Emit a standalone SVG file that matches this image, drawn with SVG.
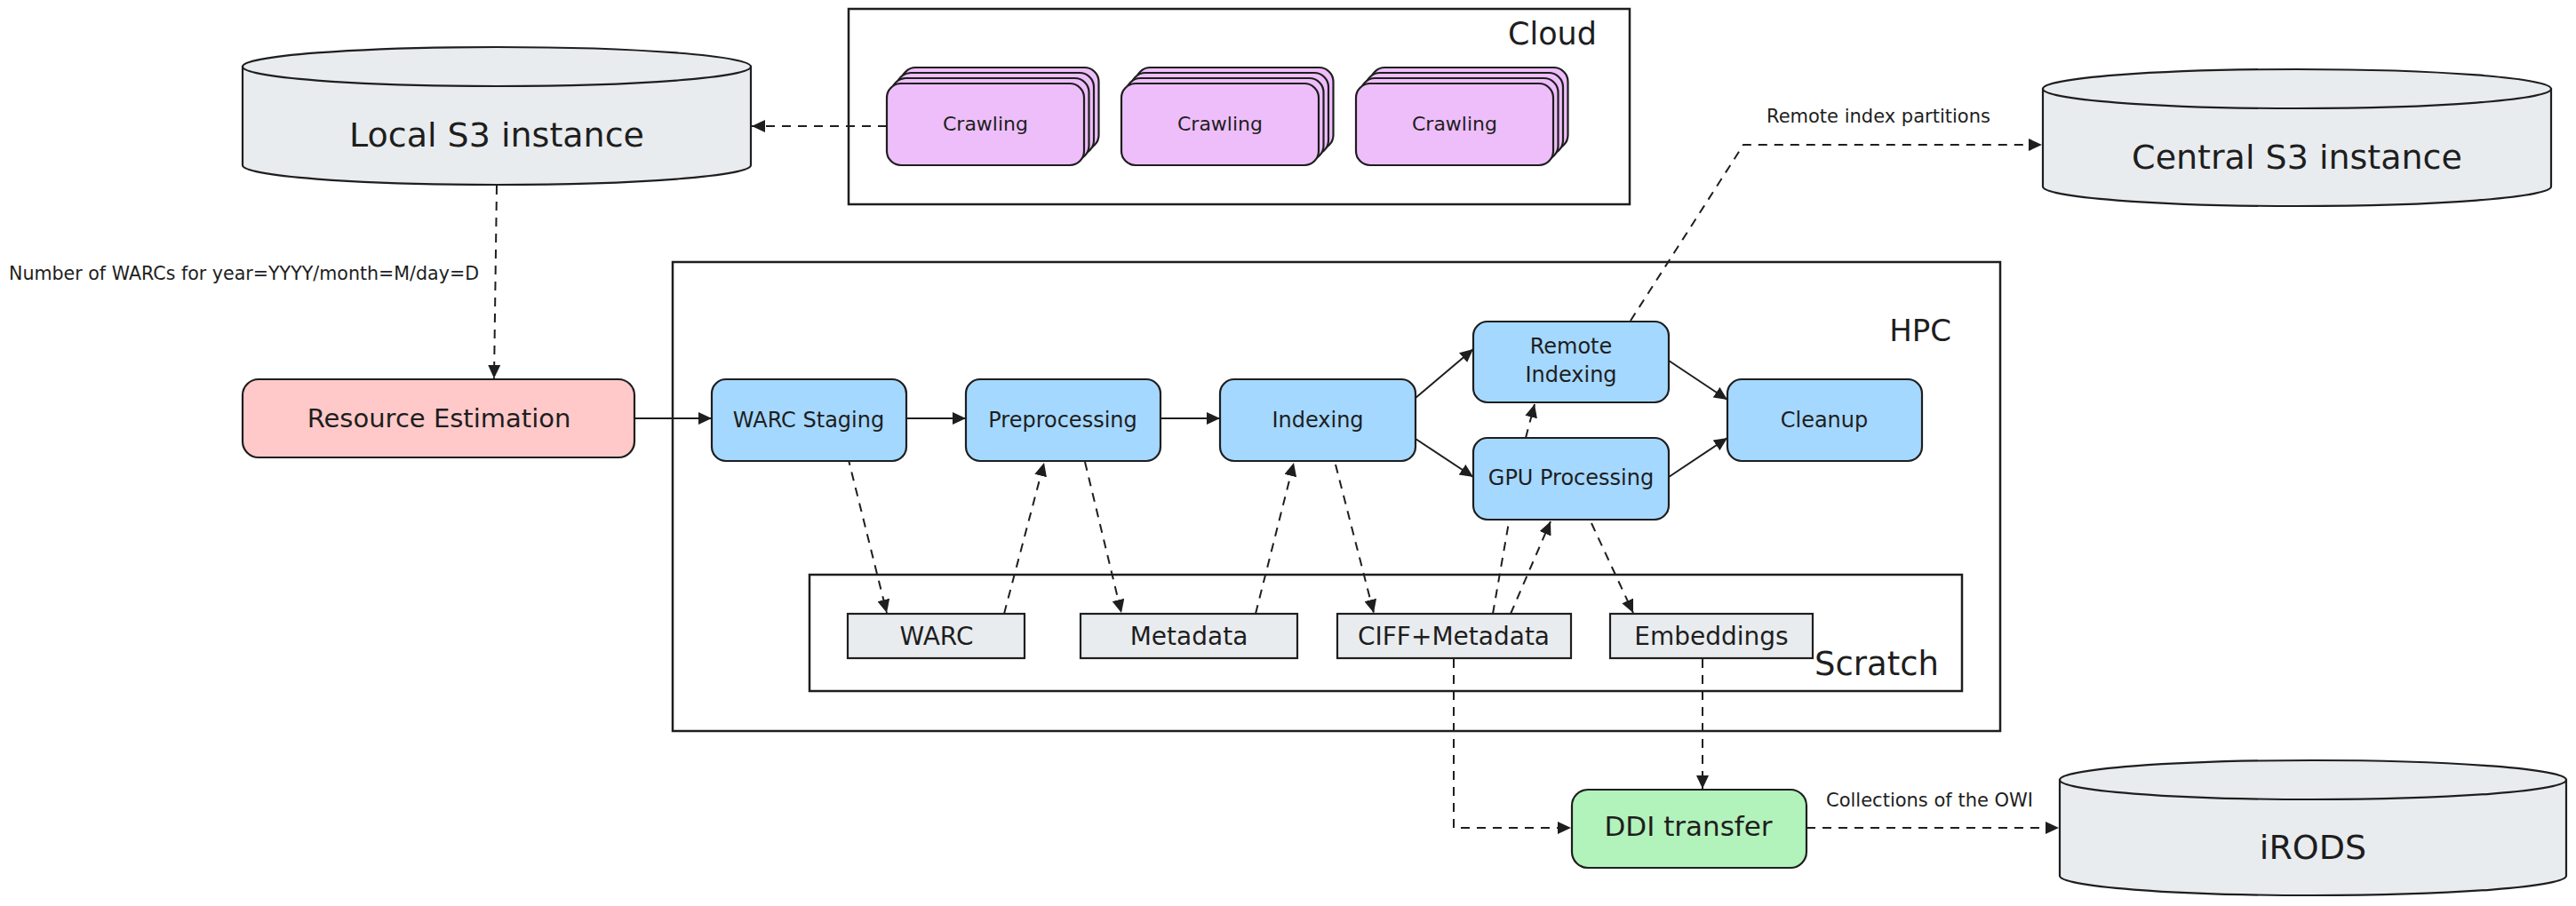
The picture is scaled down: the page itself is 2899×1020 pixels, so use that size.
<svg xmlns="http://www.w3.org/2000/svg" width="2899" height="1020" viewBox="0 0 2899 1020">
  <style>
    text { font-family: "DejaVu Sans", "Liberation Sans", sans-serif; fill: #1e1e1e; }
    .c { text-anchor: middle; }
    .box { stroke: #1e1e1e; stroke-width: 2.2; }
    .blue { fill: #a5d8ff; }
    .pink { fill: #ffc9c9; }
    .purple { fill: #eebefa; }
    .green { fill: #b2f2bb; }
    .gray { fill: #e9ecef; }
    .frame { fill: none; stroke: #1e1e1e; stroke-width: 2.5; }
    .ln { fill: none; stroke: #1e1e1e; stroke-width: 2; }
    .dash { stroke-dasharray: 10 8; }
    .t24 { font-size: 24px; }
    .t28 { font-size: 28px; }
    .t22 { font-size: 22px; }
    .big { font-size: 38px; }
    .lbl { font-size: 21px; }
  </style>
  <defs>
    <marker id="ah" markerWidth="16" markerHeight="14" refX="15" refY="7" orient="auto" markerUnits="userSpaceOnUse">
      <path d="M0,0 L15,7 L0,14 Z" fill="#1e1e1e" stroke="none"/>
    </marker>
    <g id="crawlStack">
      <rect x="16.5" y="-18" width="222" height="92" rx="16" class="box purple"/>
      <rect x="11" y="-12" width="222" height="92" rx="16" class="box purple"/>
      <rect x="5.5" y="-6" width="222" height="92" rx="16" class="box purple"/>
      <rect x="0" y="0" width="222" height="92" rx="16" class="box purple"/>
    </g>
  </defs>
  <rect width="2899" height="1020" fill="#ffffff"/>

  <!-- Containers -->
  <g id="cloud">
    <rect x="955" y="10" width="879" height="220" class="frame"/>
    <text x="1797" y="50" font-size="35" text-anchor="end">Cloud</text>
  </g>
  <g id="hpc">
    <rect x="757" y="295" width="1494" height="528" class="frame"/>
    <text x="2196" y="384" font-size="34" text-anchor="end">HPC</text>
  </g>
  <g id="scratch">
    <rect x="911" y="647" width="1297" height="131" class="frame"/>
    <text x="2042" y="760" font-size="37">Scratch</text>
  </g>

  <!-- Connectors -->
  <g id="connectors">
    <path class="ln" d="M714,471 L801,471" marker-end="url(#ah)"/>
    <path class="ln" d="M1020,471 L1087,471" marker-end="url(#ah)"/>
    <path class="ln" d="M1306,471 L1373,471" marker-end="url(#ah)"/>
    <path class="ln" d="M1593,448 L1658,393" marker-end="url(#ah)"/>
    <path class="ln" d="M1593,494 L1658,537" marker-end="url(#ah)"/>
    <path class="ln" d="M1878,406 L1944,450" marker-end="url(#ah)"/>
    <path class="ln" d="M1878,537 L1944,493" marker-end="url(#ah)"/>

    <path class="ln dash" d="M998,142 L846,142" marker-end="url(#ah)"/>
    <path class="ln dash" d="M559,209 L556,426" marker-end="url(#ah)"/>
    <path class="ln dash" d="M1835,361 L1962,163 L2298,163" marker-end="url(#ah)"/>
    <path class="ln dash" d="M954,514 L998,690" marker-end="url(#ah)"/>
    <path class="ln dash" d="M1130,691 L1175,521" marker-end="url(#ah)"/>
    <path class="ln dash" d="M1221,520 L1262,690" marker-end="url(#ah)"/>
    <path class="ln dash" d="M1413,691 L1456,521" marker-end="url(#ah)"/>
    <path class="ln dash" d="M1503,523 L1546,690" marker-end="url(#ah)"/>
    <path class="ln dash" d="M1680,691 L1698,588"/>
    <path class="ln dash" d="M1700,691 L1745,587" marker-end="url(#ah)"/>
    <path class="ln dash" d="M1717,493 L1727,455" marker-end="url(#ah)"/>
    <path class="ln dash" d="M1791,589 L1838,690" marker-end="url(#ah)"/>
    <path class="ln dash" d="M1636,742 L1636,932 L1768,932" marker-end="url(#ah)"/>
    <path class="ln dash" d="M1916,742 L1916,888" marker-end="url(#ah)"/>
    <path class="ln dash" d="M2033,932 L2317,932" marker-end="url(#ah)"/>

    <text x="10" y="315" font-size="20.6">Number of WARCs for year=YYYY/month=M/day=D</text>
    <text x="1988" y="138" class="lbl">Remote index partitions</text>
    <text x="2055" y="908" class="lbl">Collections of the OWI</text>
  </g>

  <!-- Storage cylinders -->
  <g id="local-s3">
    <path class="box gray" d="M273,75 V186 A286,22 0 0 0 845,186 V75 Z"/>
    <ellipse cx="559" cy="75" rx="286" ry="22" class="box gray"/>
    <text x="559" y="165" class="c big">Local S3 instance</text>
  </g>
  <g id="central-s3">
    <path class="box gray" d="M2299,100 V210 A286,22 0 0 0 2871,210 V100 Z"/>
    <ellipse cx="2585" cy="100" rx="286" ry="22" class="box gray"/>
    <text x="2585" y="190" class="c big">Central S3 instance</text>
  </g>
  <g id="irods">
    <path class="box gray" d="M2318,878 V986 A285,22 0 0 0 2888,986 V878 Z"/>
    <ellipse cx="2603" cy="878" rx="285" ry="22" class="box gray"/>
    <text x="2603" y="967" class="c big">iRODS</text>
  </g>

  <!-- Crawling -->
  <g id="crawling-1">
    <use href="#crawlStack" x="998" y="94"/>
    <text x="1109" y="147" class="c t22">Crawling</text>
  </g>
  <g id="crawling-2">
    <use href="#crawlStack" x="1262" y="94"/>
    <text x="1373" y="147" class="c t22">Crawling</text>
  </g>
  <g id="crawling-3">
    <use href="#crawlStack" x="1526" y="94"/>
    <text x="1637" y="147" class="c t22">Crawling</text>
  </g>

  <!-- Process nodes -->
  <g id="resource-estimation">
    <rect x="273" y="427" width="441" height="88" rx="18" class="box pink"/>
    <text x="494" y="481" class="c" font-size="29">Resource Estimation</text>
  </g>
  <g id="warc-staging">
    <rect x="801" y="427" width="219" height="92" rx="16" class="box blue"/>
    <text x="910" y="481" class="c t24">WARC Staging</text>
  </g>
  <g id="preprocessing">
    <rect x="1087" y="427" width="219" height="92" rx="16" class="box blue"/>
    <text x="1196" y="481" class="c t24">Preprocessing</text>
  </g>
  <g id="indexing">
    <rect x="1373" y="427" width="220" height="92" rx="16" class="box blue"/>
    <text x="1483" y="481" class="c t24">Indexing</text>
  </g>
  <g id="remote-indexing">
    <rect x="1658" y="362" width="220" height="91" rx="16" class="box blue"/>
    <text x="1768" y="398" class="c t24">Remote</text>
    <text x="1768" y="430" class="c t24">Indexing</text>
  </g>
  <g id="gpu-processing">
    <rect x="1658" y="493" width="220" height="92" rx="16" class="box blue"/>
    <text x="1768" y="546" class="c t24">GPU Processing</text>
  </g>
  <g id="cleanup">
    <rect x="1944" y="427" width="219" height="92" rx="16" class="box blue"/>
    <text x="2053" y="481" class="c t24">Cleanup</text>
  </g>
  <g id="ddi-transfer">
    <rect x="1769" y="889" width="264" height="88" rx="18" class="box green"/>
    <text x="1900" y="941" class="c" font-size="31">DDI transfer</text>
  </g>

  <!-- Scratch items -->
  <g id="warc">
    <rect x="954" y="691" width="199" height="50" class="box gray"/>
    <text x="1054" y="726" class="c t28">WARC</text>
  </g>
  <g id="metadata">
    <rect x="1216" y="691" width="244" height="50" class="box gray"/>
    <text x="1338" y="726" class="c t28">Metadata</text>
  </g>
  <g id="ciff-metadata">
    <rect x="1505" y="691" width="263" height="50" class="box gray"/>
    <text x="1636" y="726" class="c t28">CIFF+Metadata</text>
  </g>
  <g id="embeddings">
    <rect x="1812" y="691" width="228" height="50" class="box gray"/>
    <text x="1926" y="726" class="c t28">Embeddings</text>
  </g>
</svg>
